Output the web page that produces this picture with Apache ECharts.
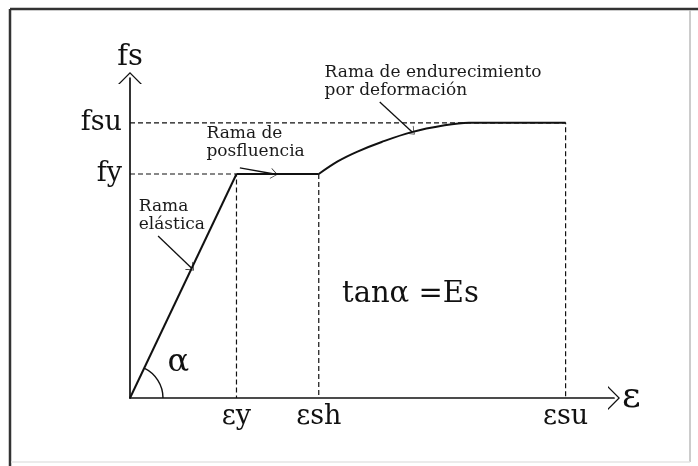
<!DOCTYPE html>
<html>
<head>
<meta charset="utf-8">
<script src="https://cdn.jsdelivr.net/npm/echarts@6/dist/echarts.min.js"></script>
<style>
  html, body { margin: 0; padding: 0; background: #fff; }
  #chart { width: 698px; height: 466px; }
</style>
</head>
<body>
<div id="chart"></div>
<script>
// strain (x) and stress (y) in arbitrary units, 0..100 on both axes
const strainTicks = [22, 39, 90];
const strainLabels = ["εy", "εsh", "εsu"];
const stressTicks = [70, 86];
const stressLabels = ["fy", "fsu"];

const elasticBranch = [[0, 0], [22, 70]];
const yieldPlateau = [[22, 70], [39, 70]];
const hardeningBranch = [[39, 70], [43, 74], [47, 77], [52, 80], [58, 83], [65, 85.2], [70, 86], [90, 86]];

// dashed guide lines
const guideFsu = [[0, 86], [90, 86], [90, 0]];
const guideFy = [[0, 70], [22, 70], [22, 0]];
const guideSh = [[39, 70], [39, 0]];

// annotations (data units): text anchor + arrow from/to
const noteTexts = ["Rama\nelástica", "Rama de\nposfluencia", "Rama de endurecimiento\npor deformación"];
const noteAnchors = [[1.8, 62.5], [15.8, 85.5], [40.2, 104.5]];
const noteArrows = [
  [[5.8, 50.6], [12.7, 40.6]],
  [[22.7, 71.9], [29.8, 70]],
  [[51.6, 92.5], [58.3, 83.1]]
];

const SERIF = "'DejaVu Serif', 'Liberation Serif', serif";
const chevron = "path://M0,12 L12,0 L24,12 L22.2,12 L12,1.8 L1.8,12 Z";

const chart = echarts.init(document.getElementById("chart"));

const solid = { color: "#111", width: 2 };
const dashed = { color: "#111", width: 1.2, type: [5, 3] };

const lineSeries = (data, style, smooth) => ({
  type: "line",
  data: data,
  smooth: smooth || false,
  symbol: "none",
  silent: true,
  lineStyle: style,
  z: style === solid ? 3 : 2
});

const arrowLines = noteArrows.map((a) => [{ coord: a[0] }, { coord: a[1] }]);

chart.setOption({
  animation: false,
  backgroundColor: "#fff",
  grid: { left: 130, right: 84, top: 78, bottom: 68 },
  xAxis: {
    type: "value",
    min: 0,
    max: 100,
    name: "ε",
    nameLocation: "end",
    nameGap: 8,
    nameTextStyle: { fontFamily: SERIF, fontSize: 36, color: "#111", verticalAlign: "middle", padding: [0, 0, 6, 0] },
    axisLine: {
      lineStyle: { color: "#111", width: 1.7 },
      symbol: ["none", chevron],
      symbolSize: [24, 12]
    },
    axisTick: { show: false },
    splitLine: { show: false },
    axisLabel: {
      customValues: strainTicks,
      formatter: (v) => strainLabels[strainTicks.indexOf(v)] || "",
      fontFamily: SERIF,
      fontSize: 27,
      color: "#111",
      margin: 5
    }
  },
  yAxis: {
    type: "value",
    min: 0,
    max: 100,
    name: "fs",
    nameLocation: "end",
    nameGap: 6,
    nameTextStyle: { fontFamily: SERIF, fontSize: 29, color: "#111" },
    axisLine: {
      lineStyle: { color: "#111", width: 1.7 },
      symbol: ["none", chevron],
      symbolSize: [24, 12]
    },
    axisTick: { show: false },
    splitLine: { show: false },
    axisLabel: {
      customValues: stressTicks,
      formatter: (v) => stressLabels[stressTicks.indexOf(v)] || "",
      fontFamily: SERIF,
      fontSize: 27,
      color: "#111",
      margin: 8
    }
  },
  series: [
    lineSeries(guideFsu, dashed),
    lineSeries(guideFy, dashed),
    lineSeries(guideSh, dashed),
    lineSeries(elasticBranch, solid),
    lineSeries(yieldPlateau, solid),
    Object.assign(lineSeries(hardeningBranch, solid, 0.35), {
      markLine: {
        silent: true,
        symbol: ["none", chevron],
        symbolSize: [11, 7],
        label: { show: false },
        lineStyle: { color: "#111", width: 1.3, type: "solid" },
        data: arrowLines
      }
    })
  ]
});

// decorations placed through the chart's own coordinate system
const px = (p) => chart.convertToPixel({ gridIndex: 0 }, p);
const origin = px([0, 0]);
const elasticTop = px(elasticBranch[1]);
const slope = Math.atan2(origin[1] - elasticTop[1], elasticTop[0] - origin[0]);
const alphaAt = px([10, 11]);
const tanAt = px([43.8, 32.5]);

const graphics = [
  // picture frame: dark top/left, faint right/bottom
  { type: "line", shape: { x1: 10, y1: 9, x2: 698, y2: 9 }, style: { stroke: "#333", lineWidth: 2.5 }, silent: true },
  { type: "line", shape: { x1: 10, y1: 9, x2: 10, y2: 466 }, style: { stroke: "#333", lineWidth: 2.5 }, silent: true },
  { type: "line", shape: { x1: 690, y1: 10, x2: 690, y2: 462 }, style: { stroke: "#bbb", lineWidth: 1.5 }, silent: true },
  { type: "line", shape: { x1: 11, y1: 462, x2: 690, y2: 462 }, style: { stroke: "#e4e4e4", lineWidth: 1.5 }, silent: true },
  {
    type: "arc",
    shape: { cx: origin[0], cy: origin[1], r: 33, startAngle: -slope, endAngle: 0 },
    style: { fill: "none", stroke: "#111", lineWidth: 1.4 }
  },
  {
    type: "text",
    x: alphaAt[0],
    y: alphaAt[1],
    style: { text: "α", font: "32px " + SERIF, fill: "#111", align: "center", verticalAlign: "middle" }
  },
  {
    type: "text",
    x: tanAt[0],
    y: tanAt[1],
    style: { text: "tanα =Es", font: "29px " + SERIF, fill: "#111", align: "left", verticalAlign: "middle" }
  }
];

noteTexts.forEach((t, i) => {
  const p = px(noteAnchors[i]);
  graphics.push({
    type: "text",
    x: p[0],
    y: p[1],
    style: { text: t, font: "17px " + SERIF, lineHeight: 18, fill: "#1a1a1a", align: "left", verticalAlign: "top" }
  });
});

chart.setOption({ graphic: graphics });
</script>
</body>
</html>
